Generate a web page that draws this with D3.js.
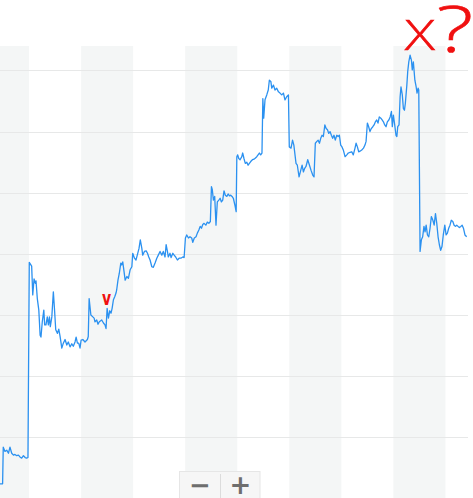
<!DOCTYPE html>
<html>
<head>
<meta charset="utf-8">
<script src="https://cdn.jsdelivr.net/npm/d3@7"></script>
<style>
  html, body { margin: 0; padding: 0; background: #ffffff; }
  svg { display: block; }
</style>
</head>
<body>
<div id="chart"></div>
<script>
// ---- data (hours from first midnight, value) ----
const hours = [
  -13.4,-12.2,-11.9,-11.1,-10.3,-9.5,-8.8,-8.0,-7.2,-6.5,-5.7,-4.9,-4.2,-3.4,-2.6,-1.8,-1.1,-0.5,
  0.1,1.2,1.7,2.3,2.9,3.2,3.8,4.5,5.1,5.5, 6.1,6.8,7.2,7.8,8.4,8.9,9.4,9.8,10.5,11.2,
  11.7,12.3,13.1,13.7,14.3,15.1,15.8,16.6,17.4,18.1, 18.9,19.7,20.4,21.2,21.7,22.3,22.9,23.5,24.0,24.8,
  25.8,26.9,27.3,27.7,28.5,29.4,30.0,30.4,31.2,31.8, 32.4,33.5,34.3,35.0,35.5,36.0,36.6,37.2,37.8,38.3,
  38.9,39.5,40.1,40.4,41.0,41.6,42.3,
  42.7,43.2,43.8,44.3,45.1,45.8,46.6,47.4,47.8,48.6, 49.3,49.9,50.7,51.3,52.0,52.4,53.2,54.0,54.6,55.2,
  55.8,56.6,57.3,58.1,58.9,59.6,60.4,61.2,61.9,62.7, 63.2,63.8,64.2,65.0,65.5,66.3,66.9,67.6,68.4,69.2,
  70.0,70.9,71.5,72.1,72.7,73.5,74.2,75.0,75.5,76.2, 77.0,77.6,78.3,78.9,79.5,80.1,80.7,81.5,82.2,82.9,
  83.6,84.1,84.5,85.0,85.6,86.2,86.8,87.5,88.1,88.7, 89.3,89.9,90.5,91.2,91.8,92.4,93.0,93.6,94.2,94.9,
  95.5,95.8,96.2,96.7,97.3,98.1,98.5,99.1,99.7,100.4, 101.0,101.6,102.2,103.0,103.8,104.4,105.0,105.6,106.2,106.8,
  107.4,107.8,108.2,108.8,109.6,110.3,110.8,111.5,111.9,112.7, 113.4,114.2,115.0,115.7,116.5,117.3,118.0,118.8,119.6,120.0,
  120.8,121.5,122.1,123.1,123.7,124.5,125.3,125.9,126.5,127.1, 127.7,128.5,129.3,130.0,130.8,131.4,132.0,132.7,133.3,133.9,
  134.5,135.1,135.7,136.4,137.0,137.6,138.2,138.8,139.4,140.0, 140.6,141.2,141.9,142.5,143.1,143.7,144.3,144.9,145.7,146.5,
  147.2,148.0,148.8,149.5,150.3,150.8,151.4,152.0,152.6,153.4, 154.2,154.9,155.4,156.0,156.6,157.2,157.8,158.5,159.1,159.7,
  160.3,160.9,161.5,162.2,162.8,163.4,164.0,164.6,165.2,165.9, 166.5,167.1,167.5,168.0,168.6,169.2,169.6,170.0,170.6,171.1,
  171.5,172.1,172.6,173.1,173.5,174.2,174.6,175.1,175.7,176.3, 176.7,177.2,177.9,178.5,178.9,179.4,179.7,
  180.3,180.9,181.5,182.1,182.6,183.1,183.7,184.3,184.9,185.5, 186.2,186.8,187.4,188.0,188.6,189.2,189.8,190.4,191.0,191.7,
  192.3,192.9,193.5,194.1,194.7,195.4,196.0,196.6,197.2,197.8, 198.4,199.1,199.7,200.3,201.0,201.8
];
const values = [
  2.4,2.4,8.4,7.7,7.9,7.4,8.4,7.4,7.1,7.2,7.0,7.1,6.8,6.6,7.0,6.7,6.6,6.7,
  38.6,38.0,33.3,35.9,35.2,35.6,32.7,30.8,26.7,26.4, 28.9,30.8,28.4,28.4,29.7,28.4,29.7,28.1,29.7,33.8,
  31.1,27.6,27.0,27.7,26.5,24.6,25.4,26.0,25.1,25.6, 24.8,25.3,24.9,25.6,26.4,25.4,25.4,24.6,25.9,26.0,
  25.6,26.0,26.5,32.7,30.0,29.7,29.5,28.9,29.2,28.5, 28.9,29.2,28.7,28.4,27.8,31.1,29.5,30.7,30.3,31.1,
  32.5,33.0,33.6,34.1,35.7,36.8,38.5,
  38.2,38.7,37.1,35.7,36.3,36.0,37.4,37.9,40.1,39.3, 39.0,39.8,40.9,42.3,40.9,39.8,40.4,40.5,40.1,39.5,
  39.0,37.9,37.8,38.5,39.3,39.8,40.4,39.8,40.4,39.5, 41.5,40.4,39.5,40.1,39.4,40.1,39.8,39.5,39.0,39.3,
  39.3,39.5,39.4,42.6,43.1,42.6,42.8,42.6,41.9,42.6, 42.8,43.4,43.9,44.5,44.2,44.8,45.0,44.7,45.2,45.0,
  45.3,51.0,50.5,48.8,49.4,44.7,48.5,48.8,49.1,48.5, 48.8,50.3,49.6,49.4,49.8,49.5,49.6,49.4,49.1,48.0,
  46.9,55.9,56.2,55.6,55.4,55.9,56.5,55.6,54.8,55.0, 54.5,54.8,55.1,55.4,55.5,55.7,55.9,56.2,56.5,56.2,
  56.5,65.4,62.2,65.2,66.0,66.8,68.4,68.2,67.1,67.6, 66.8,67.1,66.5,66.3,66.0,66.3,65.2,65.7,66.0,57.5,
  57.3,58.6,57.8,54.8,54.5,52.6,53.7,54.5,53.4,54.0, 54.3,55.4,54.5,53.7,52.9,52.6,58.1,58.4,58.6,58.1,
  58.9,59.4,59.2,61.1,60.5,60.3,59.7,60.0,59.4,58.9, 59.4,58.6,59.4,59.2,59.4,57.8,57.5,57.0,55.9,56.2,
  56.5,56.6,56.7,56.2,57.3,58.1,57.5,56.7,56.8,57.0, 57.3,57.8,58.4,61.4,60.8,60.0,60.5,60.8,61.1,61.6,
  61.9,61.4,62.4,62.2,61.9,61.6,61.1,60.8,61.6,61.9, 62.4,63.3,60.8,62.7,61.1,59.4,59.2,60.8,61.1,65.7,
  67.3,66.0,63.8,63.5,64.6,67.6,69.8,71.4,72.5,71.7, 70.1,71.4,68.4,67.3,66.3,67.1,66.8,
  40.4,42.3,42.8,44.5,43.6,44.7,43.1,42.8,44.2,46.1, 45.5,44.7,46.6,45.0,42.8,41.5,40.6,41.2,43.1,44.7,
  43.1,43.4,44.2,44.7,45.5,45.3,44.7,44.5,44.7,44.5, 44.3,44.5,44.7,44.2,43.1,42.8
];
const gridTicks = [10, 20, 30, 40, 50, 60, 70];
const shadedDays = [-1, 1, 3, 5, 7];   // alternate days shaded
const hourDomain = [-13.4, 202.4];
const valueDomain = [0, 74];
const zoomLabels = ["\u2212", "+"];
const notes = [
  { text: "X", h: 180.2, v: 73.3, size: 43, sx: 1.3 },
  { text: "?", h: 196.4, v: 73.0, size: 64, sx: 1.35 }
];
const markNote = { text: "v", h: 35.7, v: 31.7 };

// ---- layout ----
const W = 473, H = 498;
const plotLeft = 0, plotRight = 468, plotTop = 46, plotBottom = 498.5;

const x = d3.scaleLinear().domain(hourDomain).range([plotLeft, plotRight]);
const y = d3.scaleLinear().domain(valueDomain).range([plotBottom, plotTop]);

const svg = d3.select("#chart").append("svg")
  .attr("width", W).attr("height", H)
  .attr("viewBox", `0 0 ${W} ${H}`);

svg.append("rect").attr("width", W).attr("height", H).attr("fill", "#ffffff");

svg.append("defs").append("clipPath").attr("id", "plotclip")
  .append("rect").attr("x", plotLeft).attr("y", plotTop)
  .attr("width", plotRight - plotLeft).attr("height", H - plotTop);

// day bands
svg.append("g").attr("clip-path", "url(#plotclip)")
  .selectAll("rect").data(shadedDays).join("rect")
  .attr("x", d => x(d * 24))
  .attr("width", d => x(d * 24 + 24) - x(d * 24))
  .attr("y", plotTop).attr("height", H - plotTop)
  .attr("fill", "#f4f6f6");

// horizontal grid via axis
const grid = svg.append("g")
  .attr("transform", `translate(${plotLeft},0)`)
  .call(d3.axisLeft(y).tickValues(gridTicks).tickSize(-(plotRight - plotLeft)).tickFormat(""));
grid.select(".domain").remove();
grid.selectAll(".tick line").attr("stroke", "#e7e8e8").attr("stroke-width", 1)
  .attr("shape-rendering", "crispEdges");

// series line
const pts = hours.map((h, i) => [h, values[i]]).filter(d => d[1] !== undefined);
svg.append("path")
  .datum(pts)
  .attr("fill", "none")
  .attr("stroke", "#2b91f0")
  .attr("stroke-width", 1.3)
  .attr("stroke-linejoin", "round")
  .attr("d", d3.line().x(d => x(d[0])).y(d => y(d[1])));

// hand annotations (red)
svg.append("g").selectAll("text").data(notes).join("text")
  .attr("transform", d => `translate(${x(d.h)},${y(d.v)}) scale(${d.sx},1)`)
  .attr("text-anchor", "middle")
  .attr("font-family", "'Open Sans', 'DejaVu Sans', sans-serif")
  .attr("font-weight", 300)
  .attr("font-size", d => d.size)
  .attr("fill", "#f01010")
  .attr("stroke", "#f01010")
  .attr("stroke-width", 0.6)
  .text(d => d.text);

svg.append("text")
  .attr("transform", `translate(${x(markNote.h)},${y(markNote.v)}) scale(0.7,1)`)
  .attr("text-anchor", "middle")
  .attr("font-family", "'DejaVu Sans', sans-serif")
  .attr("font-weight", "bold")
  .attr("font-size", 20)
  .attr("fill", "#f01010")
  .text(markNote.text);

// zoom control
const zc = svg.append("g");
zc.append("rect").attr("x", 179.5).attr("y", 471.5).attr("width", 80.5).attr("height", 40)
  .attr("fill", "#f6f6f6").attr("stroke", "#e6e6e6").attr("stroke-width", 1);
zc.append("line").attr("x1", 220.5).attr("x2", 220.5).attr("y1", 474).attr("y2", 498)
  .attr("stroke", "#dcdcdc");
zc.selectAll("text.z").data(zoomLabels).join("text")
  .attr("class", "z")
  .attr("x", (d, i) => 200 + i * 40.5)
  .attr("y", 494)
  .attr("text-anchor", "middle")
  .attr("font-family", "'DejaVu Sans', sans-serif")
  .attr("font-weight", "bold")
  .attr("font-size", 26)
  .attr("fill", "#6e6e6e")
  .text(d => d);
</script>
</body>
</html>
